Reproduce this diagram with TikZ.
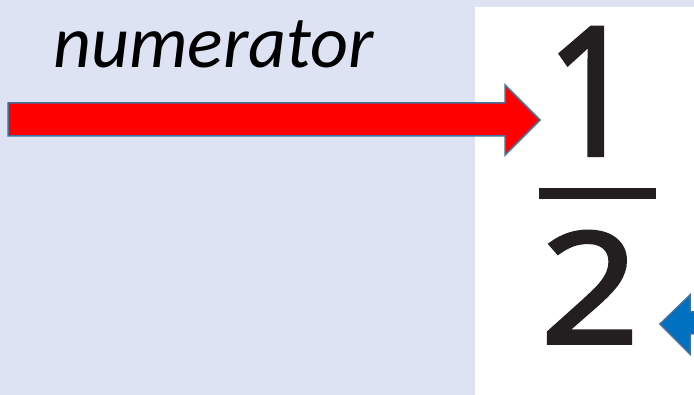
\documentclass[tikz,border=0pt]{standalone}
\usepackage{fontspec}
\newfontfamily\labelfont{Carlito}
\newfontfamily\digitfont[FakeBold=2.5]{Open Sans}
\definecolor{panelblue}{RGB}{221,227,242}
\definecolor{edgeblue}{RGB}{65,113,156}
\definecolor{arrowblue}{RGB}{0,112,192}
\definecolor{ink}{RGB}{35,31,32}
\tikzset{blockarrow/.style={draw=edgeblue,line width=1.5pt,line join=miter}}
\begin{document}
\begin{tikzpicture}[x=1pt,y=-1pt]
\useasboundingbox (0,0) rectangle (694,395);
\clip (0,0) rectangle (694,395);
\fill[panelblue] (0,0) rectangle (694,395);
\fill[white] (475,7) rectangle (700,400);
\path node (word) at (53,68) [anchor=base west,inner sep=0pt]
        {\labelfont\itshape\fontsize{74}{74}\selectfont numerator}
      node (one) at (592,155) [anchor=base,inner sep=0pt,text=ink,xscale=0.9]
        {\digitfont\fontsize{178}{178}\selectfont 1}
      node (two) at (590,343) [anchor=base,inner sep=0pt,text=ink,xscale=1.12]
        {\digitfont\fontsize{154}{154}\selectfont 2}
;
\fill[ink] (539,188) rectangle (656,199);
% arrows
\draw[blockarrow,fill=red] (8,103) -- (505,103) -- (505,85) -- (540,120)
  -- (505,155) -- (505,136) -- (8,136) -- cycle;
\draw[blockarrow,fill=arrowblue] (720,312) -- (690,312) -- (690,295) -- (660,324)
  -- (690,354) -- (690,334) -- (720,334) -- cycle;
\end{tikzpicture}
\end{document}
